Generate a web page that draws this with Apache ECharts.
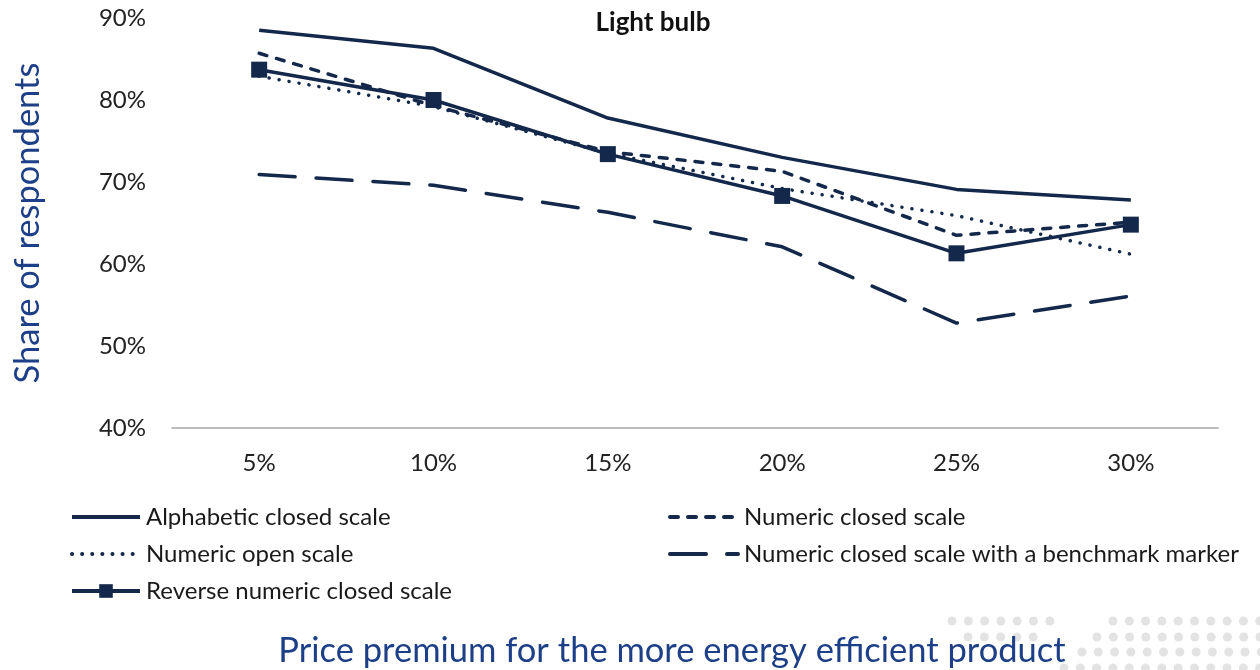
<!DOCTYPE html>
<html>
<head>
<meta charset="utf-8">
<script src="https://cdn.jsdelivr.net/npm/echarts@6/dist/echarts.min.js"></script>
<style>
html,body{margin:0;padding:0;background:#fff;}
#chart{width:1260px;height:670px;}
</style>
</head>
<body>
<div id="chart"></div>
<script>
var categories = ['5%', '10%', '15%', '20%', '25%', '30%'];
var yTicks = ['40%', '50%', '60%', '70%', '80%', '90%'];
var alphabeticClosed = [88.5, 86.3, 77.8, 73.0, 69.1, 67.8];
var numericClosed = [85.7, 79.3, 73.7, 71.3, 63.5, 65.1];
var numericOpen = [82.9, 79.2, 73.5, 69.2, 65.9, 61.2];
var benchmarkMarker = [70.9, 69.6, 66.3, 62.1, 52.8, 56.1];
var reverseNumeric = [83.7, 80.0, 73.4, 68.3, 61.3, 64.8];

var NAVY = '#13284a';
var FONT = 'Lato';
var LW = 3.5;

var chart = echarts.init(document.getElementById('chart'), null, {renderer: 'canvas'});

// decorative dot pattern (bottom right)
var dots = [];
function dotRow(y, x0, x1) {
  for (var x = x0; x <= x1; x += 16.3) {
    dots.push({type: 'circle', shape: {cx: x, cy: y, r: 4.5}, style: {fill: '#e3e3e3'}, z: -1});
  }
}
dotRow(621, 952, 1052); dotRow(621, 1113, 1265);
dotRow(637, 968, 1036); dotRow(637, 1097, 1265);
dotRow(652, 1082, 1265);
dotRow(668, 1064, 1265);

function legendEntry(name, hideSymbol) {
  var item = {name: name, lineStyle: {width: 4}};
  if (hideSymbol) item.itemStyle = {opacity: 0, color: 'rgba(0,0,0,0)'};
  return item;
}

var legendCommon = {
  orient: 'vertical', top: 500,
  itemWidth: 68, itemHeight: 17, itemGap: 13,
  lineStyle: {width: 4},
  textStyle: {fontFamily: FONT, fontSize: 24, color: '#1a1a1a', lineHeight: 24, padding: [0, 0, 0, 1]}
};

var option = {
  animation: false,
  backgroundColor: '#ffffff',
  title: {
    text: 'Light bulb',
    left: 648, top: 5, textAlign: 'center',
    textStyle: {fontFamily: FONT, fontSize: 26, fontWeight: 'bold', color: '#111'}
  },
  graphic: dots,
  grid: {left: 172, right: 42, top: 18, bottom: 242, outerBoundsMode: 'none', containLabel: false},
  legend: [
    Object.assign({}, legendCommon, {
      left: 65,
      data: [legendEntry('Alphabetic closed scale', true), legendEntry('Numeric open scale', true), legendEntry('Reverse numeric closed scale', false)]
    }),
    Object.assign({}, legendCommon, {
      left: 663,
      data: [legendEntry('Numeric closed scale', true), legendEntry('Numeric closed scale with a benchmark marker', true)]
    })
  ],
  xAxis: {
    type: 'category',
    data: categories,
    boundaryGap: true,
    axisLine: {show: true, lineStyle: {color: '#a6a6a6', width: 1.5}},
    axisTick: {show: false},
    axisLabel: {fontFamily: FONT, fontSize: 24, color: '#222', margin: 23},
    name: 'Price premium for the more energy efficient product',
    nameLocation: 'middle',
    nameGap: 205,
    nameTextStyle: {fontFamily: FONT, fontSize: 34.5, color: '#1c3f87', padding: [0, 46, 0, 0]}
  },
  yAxis: {
    type: 'value',
    min: 40, max: 90, interval: 10,
    axisLine: {show: false},
    axisTick: {show: false},
    splitLine: {show: false},
    axisLabel: {
      fontFamily: FONT, fontSize: 24, color: '#222', margin: 26,
      formatter: function (v) { return yTicks[Math.round((v - 40) / 10)]; }
    },
    name: 'Share of respondents',
    nameLocation: 'middle',
    nameGap: 127,
    nameTextStyle: {fontFamily: FONT, fontSize: 34.5, color: '#1c3f87'}
  },
  series: [
    {
      name: 'Alphabetic closed scale', type: 'line', data: alphabeticClosed,
      symbol: 'none', lineStyle: {color: NAVY, width: LW}, itemStyle: {color: NAVY}
    },
    {
      name: 'Numeric closed scale', type: 'line', data: numericClosed,
      symbol: 'none', lineStyle: {color: NAVY, width: LW, type: [8, 10], cap: 'round'}, itemStyle: {color: NAVY}
    },
    {
      name: 'Numeric open scale', type: 'line', data: numericOpen,
      symbol: 'none', lineStyle: {color: NAVY, width: LW, type: [0.1, 10], cap: 'round'}, itemStyle: {color: NAVY}
    },
    {
      name: 'Numeric closed scale with a benchmark marker', type: 'line', data: benchmarkMarker,
      symbol: 'none', lineStyle: {color: NAVY, width: LW, type: [36, 21], cap: 'round'}, itemStyle: {color: NAVY}
    },
    {
      name: 'Reverse numeric closed scale', type: 'line', data: reverseNumeric,
      symbol: 'rect', symbolSize: 16,
      lineStyle: {color: NAVY, width: LW}, itemStyle: {color: NAVY}
    }
  ]
};
chart.setOption(option);
</script>
</body>
</html>
